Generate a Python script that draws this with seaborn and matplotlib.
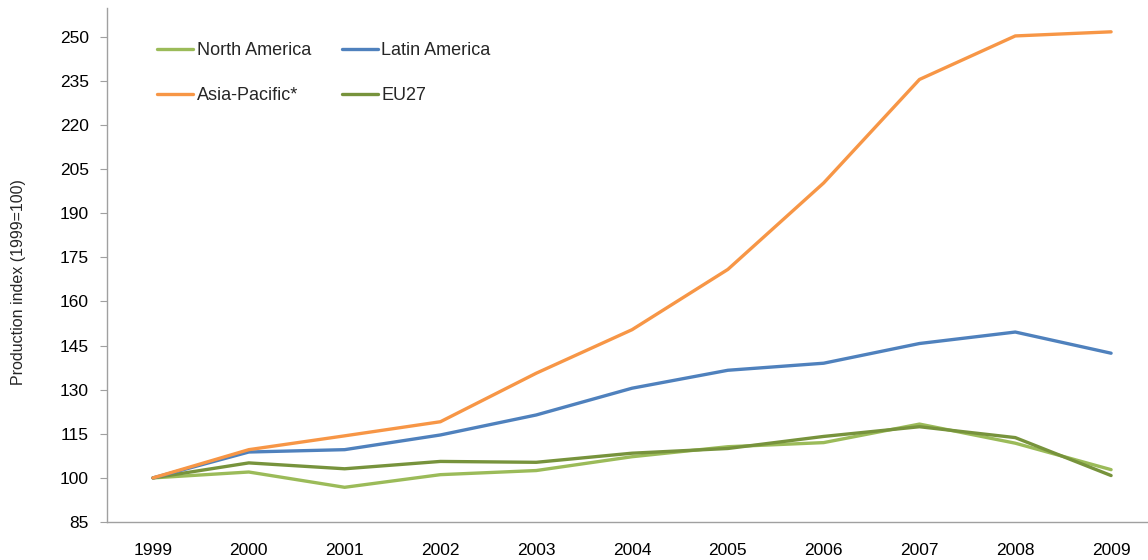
import pandas as pd
import matplotlib
matplotlib.use("Agg")
import matplotlib.pyplot as plt
import seaborn as sns

sns.set_style("white")
plt.rcParams['font.family'] = ['Liberation Sans', 'DejaVu Sans']

# data
years = ['1999', '2000', '2001', '2002', '2003', '2004', '2005', '2006', '2007', '2008', '2009']
north_america = [100, 102.0, 96.8, 101.1, 102.5, 107.2, 110.6, 112.0, 118.3, 111.8, 102.8]
latin_america = [100, 108.8, 109.6, 114.6, 121.4, 130.5, 136.6, 139.0, 145.7, 149.6, 142.4]
asia_pacific = [100, 109.6, 114.3, 119.1, 135.6, 150.4, 170.9, 200.3, 235.5, 250.3, 251.7]
eu27 = [100, 105.1, 103.1, 105.6, 105.3, 108.4, 110.0, 114.1, 117.4, 113.7, 100.8]

series = {
    'North America': north_america,
    'Latin America': latin_america,
    'Asia-Pacific*': asia_pacific,
    'EU27': eu27,
}
colors = {
    'North America': '#9BBB59',
    'Latin America': '#4F81BD',
    'Asia-Pacific*': '#F79646',
    'EU27': '#77933C',
}

rows = []
for name, vals in series.items():
    for i, v in enumerate(vals):
        rows.append({'x': i, 'Region': name, 'value': v})
df = pd.DataFrame(rows)

fig = plt.figure(figsize=(11.48, 5.6), dpi=100)
ax = fig.add_axes([107 / 1148, 38 / 560, 1052 / 1148, 514 / 560])

draw_order = ['North America', 'EU27', 'Latin America', 'Asia-Pacific*']
for name in draw_order:
    sub = df[df['Region'] == name]
    sns.lineplot(data=sub, x='x', y='value', color=colors[name], lw=2.4,
                 label=name, ax=ax)

ax.set_xlim(-0.48, 10.5)
ax.set_ylim(85, 259.8)
ax.set_yticks(range(85, 251, 15))
ax.set_xticks(range(len(years)))
ax.set_xticklabels(years)
ax.tick_params(axis='both', labelsize=12.5, colors='black')
ax.tick_params(axis='y', length=5, color='#A0A0A0', direction='out', left=True, pad=8)
ax.tick_params(axis='x', length=0, pad=15)
ax.set_xlabel('')
ax.set_ylabel('Production index (1999=100)', fontsize=11.5)
ax.yaxis.set_label_coords(-0.077, 0.466)

for s in ['top', 'right']:
    ax.spines[s].set_visible(False)
for s in ['left', 'bottom']:
    ax.spines[s].set_color('#A0A0A0')
    ax.spines[s].set_linewidth(1)

handles, labels = ax.get_legend_handles_labels()
lookup = dict(zip(labels, handles))
order = ['North America', 'Asia-Pacific*', 'Latin America', 'EU27']
ax.legend([lookup[k] for k in order], order, ncol=2, frameon=False,
          loc='upper left', bbox_to_anchor=(0.0475, 0.934), fontsize=13,
          handlelength=2.0, handletextpad=0.2, columnspacing=1.7,
          labelspacing=1.55, borderaxespad=0, borderpad=0)

fig.savefig('out.png', dpi=100)
